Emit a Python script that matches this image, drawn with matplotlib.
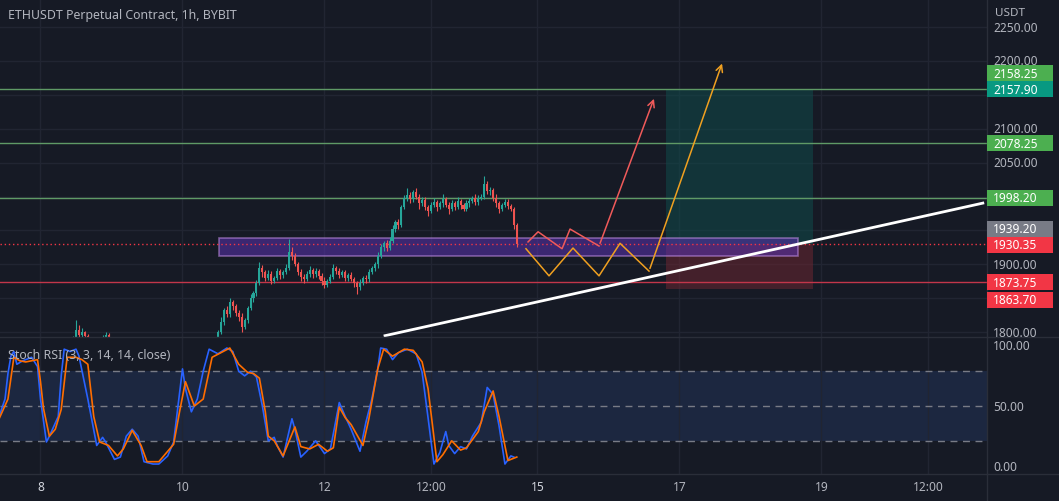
import matplotlib
matplotlib.use("Agg")
import matplotlib.pyplot as plt
from matplotlib.patches import Rectangle

# ---------------- data ----------------
# time unit: hours since day 7, 00:00
candle_start_hour = 84
closes = [1800, 1815, 1832, 1826, 1845, 1838, 1828, 1822, 1808, 1818,
          1835, 1850, 1858, 1872, 1895, 1888, 1880, 1886, 1876, 1880,
          1890, 1884, 1888, 1895, 1918, 1912, 1900, 1888, 1882, 1878,
          1886, 1892, 1885, 1890, 1883, 1876, 1870, 1876, 1882, 1894,
          1890, 1884, 1888, 1880, 1884, 1878, 1872, 1866, 1872, 1880,
          1878, 1888, 1894, 1900, 1912, 1925, 1932, 1924, 1935, 1952,
          1962, 1958, 1985, 1998, 2002, 1996, 2006, 2000, 1990, 1995,
          1985, 1978, 1988, 1992, 1985, 1990, 1996, 1988, 1982, 1990,
          1985, 1993, 1988, 1982, 1990, 1994, 1998, 1992, 1998, 2000,
          2018, 2008, 2010, 1998, 1990, 1982, 1988, 1992, 1986, 1982,
          1958, 1930.35]
first_open = 1792
upper_wick = [3, 8, 4, 6, 5, 3, 4, 5, 6, 3, 4, 6, 3, 5, 8, 4, 3, 6, 4, 3,
              5, 3, 4, 6, 20, 8, 4, 3, 5, 3, 4, 6, 3, 5, 3, 4, 6, 3, 4, 7,
              3, 5, 3, 4, 3, 5, 4, 3, 6, 3, 4, 5, 3, 4, 6, 5, 3, 4, 5, 6,
              4, 5, 3, 4, 10, 5, 4, 6, 3, 4, 5, 3, 4, 6, 3, 4, 7, 3, 4, 5,
              3, 6, 4, 3, 5, 4, 3, 5, 4, 3, 12, 5, 4, 3, 5, 4, 3, 5, 4, 3,
              3, 3]
lower_wick = [4, 3, 5, 4, 3, 6, 4, 5, 8, 3, 4, 3, 5, 4, 3, 6, 4, 3, 5, 4,
              3, 5, 4, 3, 4, 5, 3, 4, 6, 5, 3, 4, 5, 3, 4, 6, 5, 3, 4, 3,
              5, 4, 3, 5, 4, 3, 6, 10, 4, 3, 5, 4, 3, 4, 5, 3, 6, 4, 3, 4,
              5, 6, 3, 4, 5, 6, 4, 3, 8, 4, 5, 7, 3, 4, 6, 3, 5, 4, 8, 3,
              5, 4, 6, 3, 4, 5, 3, 4, 5, 3, 4, 5, 6, 4, 5, 6, 3, 4, 5, 4,
              6, 5]

# a few older candles that peek above the pane bottom
early_hours = [35, 36, 37, 38, 39, 40, 41, 42, 43, 44, 45, 46, 47]
early_open = [1785, 1792, 1803, 1796, 1800, 1794, 1788, 1782, 1778, 1776, 1782, 1793, 1796]
early_high = [1795, 1818, 1810, 1806, 1802, 1797, 1790, 1786, 1782, 1785, 1796, 1800, 1798]
early_low = [1780, 1790, 1792, 1793, 1788, 1782, 1778, 1774, 1772, 1774, 1780, 1790, 1786]
early_close = [1792, 1803, 1796, 1800, 1794, 1788, 1782, 1778, 1776, 1782, 1793, 1796, 1791]

# Stoch RSI %K (blue) and %D (orange)
k_hours = [10, 12, 13, 14, 15, 16, 18, 21, 23, 24, 26, 27, 30, 31, 32, 34, 36, 37, 40, 43, 45,
           46, 49, 51, 53, 55, 57, 59, 62, 64, 67, 69, 72, 73, 75, 77, 79, 81, 84, 87, 89, 91,
           93, 95, 97, 99, 101, 103, 104, 106, 109, 110, 112, 114, 117, 120, 122, 125, 127, 129, 132, 134, 136,
           138, 139, 141, 143, 145, 148, 151, 153, 155, 157, 159, 161, 162, 164, 166, 168, 170, 173, 175, 177,
           179, 181, 183, 184]
k_vals = [41, 56, 78, 93, 97, 86, 89, 92, 84, 56, 19, 24, 41, 76, 99, 97, 99, 93, 56, 16, 23,
          19, 4, 6, 24, 30, 24, 2, 0, 0, 7, 19, 82, 65, 45, 56, 80, 99, 95, 100, 97, 80,
          76, 80, 75, 50, 20, 23, 16, 6, 39, 30, 6, 11, 20, 9, 13, 53, 41, 30, 11, 36, 56,
          82, 100, 99, 90, 96, 99, 95, 79, 40, 0, 10, 28, 16, 9, 15, 13, 24, 36, 66, 60,
          33, 0, 7, 6]
d_hours = [10, 13, 15, 17, 19, 23, 24, 25, 27, 29, 31, 33, 36, 38, 40, 42, 44, 47, 50, 52, 55, 58, 60,
           64, 69, 71, 73, 76, 79, 82, 88, 91, 94, 96, 98, 100, 101, 103, 106, 110, 112, 115, 118, 121, 123,
           125, 127, 129, 133, 135, 138, 140, 143, 147, 150, 153, 155, 158, 160, 163, 166, 168, 172, 174, 177,
           179, 182, 185]
d_vals = [39, 56, 92, 89, 88, 90, 71, 48, 24, 30, 47, 92, 92, 90, 86, 41, 19, 16, 7, 13, 29, 16, 2,
          2, 17, 45, 71, 50, 56, 92, 100, 86, 79, 78, 74, 45, 24, 20, 7, 32, 15, 13, 17, 11, 14,
          49, 40, 34, 16, 39, 82, 99, 93, 99, 98, 88, 65, 2, 8, 20, 12, 14, 28, 45, 63,
          41, 3, 6]

# horizontal levels
green_levels = [2158.25, 2078.25, 1998.20]
red_level = 1873.75
last_price = 1930.35
zone_top, zone_bottom = 1939.20, 1912.2
zone_start, zone_end = 84.5, 280
pos_start, pos_end = 235.5, 285
pos_entry, pos_target, pos_stop = 1930.35, 2157.90, 1863.70
trend_hours = [140, 343]
trend_prices = [1794.3, 1990.7]
red_path_h = [188.8, 192.2, 200.3, 203.0, 212.8, 231.7]
red_path_p = [1933, 1948, 1923, 1952, 1927, 2148]
orange_path_h = [188.1, 195.9, 204.0, 212.8, 219.9, 229.7, 254.7]
orange_path_p = [1923, 1883, 1924, 1883, 1931, 1890, 2200]

price_ticks = [1800, 1850, 1900, 1950, 2000, 2050, 2100, 2150, 2200, 2250]
price_tick_labels = [1800, 1900, 2050, 2100, 2200, 2250]
tags = [(2158.25, '#4caf50', -16), (2157.90, '#089981', 0), (2078.25, '#4caf50', 0),
        (1998.20, '#4caf50', 0), (1939.20, '#787b86', -9), (1930.35, '#f23645', 1),
        (1873.75, '#f23645', 0), (1863.70, '#f23645', 11)]
time_ticks = [24, 72, 120, 156, 192, 240, 288, 324]
time_labels = ['8', '10', '12', '12:00', '15', '17', '19', '12:00']
bold_labels = ['8', '15']

# ---------------- style ----------------
W, H = 1059, 502
BG = '#161a25'
GRID = '#212532'
TXT = '#b2b5be'
UP, DN = '#26a69a', '#ef5350'
FONT = ['Noto Sans', 'DejaVu Sans']
plt.rcParams['font.family'] = FONT

fig = plt.figure(figsize=(W / 100, H / 100), dpi=100)
fig.patch.set_facecolor(BG)

PANE_R, MAIN_BOT, ST_BOT = 987, 338, 475
ax = fig.add_axes([0, 1 - MAIN_BOT / H, PANE_R / W, MAIN_BOT / H])
axs = fig.add_axes([0, 1 - ST_BOT / H, PANE_R / W, (ST_BOT - MAIN_BOT) / H])
for a in (ax, axs):
    a.set_facecolor(BG)
    for s in a.spines.values():
        s.set_visible(False)
    a.set_xticks([])
    a.set_yticks([])
    a.set_xlim(10.31, 343.95)

ax.set_ylim(1792.8, 2291.3)
axs.set_ylim(-8.6, 109.5)

# grid
for t in time_ticks:
    ax.axvline(t, color=GRID, lw=1, zorder=0)
for p in price_ticks:
    ax.axhline(p, color=GRID, lw=1, zorder=0)

# position tool
ax.add_patch(Rectangle((pos_start, pos_entry), pos_end - pos_start, pos_target - pos_entry,
                       facecolor='#0f4b4a', alpha=0.55, lw=0, zorder=1))
ax.add_patch(Rectangle((pos_start, pos_stop), pos_end - pos_start, pos_entry - pos_stop,
                       facecolor='#6b2631', alpha=0.55, lw=0, zorder=1))

# zone box
ax.add_patch(Rectangle((zone_start, zone_bottom), zone_end - zone_start, zone_top - zone_bottom,
                       facecolor='#5b33b0', alpha=0.55, edgecolor='#c38fe6', lw=1.2, zorder=2))

# horizontal levels
for lv in green_levels:
    ax.axhline(lv, color='#5f9a66', lw=1, zorder=3)
ax.axhline(red_level, color='#c2364a', lw=1, zorder=3)
ax.axhline(last_price, color='#f23645', lw=1, ls=(0, (1, 2)), zorder=3)

# candles
opens = [first_open] + closes[:-1]
hours = [candle_start_hour + i for i in range(len(closes))]
highs = [max(o, c) + u for o, c, u in zip(opens, closes, upper_wick)]
lows = [min(o, c) - d for o, c, d in zip(opens, closes, lower_wick)]
all_h = early_hours + hours
all_o = early_open + opens
all_c = early_close + closes
all_hi = early_high + highs
all_lo = early_low + lows
for h, o, c, hi, lo in zip(all_h, all_o, all_c, all_hi, all_lo):
    col = UP if c >= o else DN
    ax.vlines(h, lo, hi, color=col, lw=0.8, zorder=4)
    ax.bar(h, max(abs(c - o), 0.8), bottom=min(o, c), width=0.7, color=col, lw=0, zorder=5)

# trend line
ax.plot(trend_hours, trend_prices, color='white', lw=2, zorder=6, solid_capstyle='butt')

# projection paths
ax.plot(red_path_h[:-1], red_path_p[:-1], color='#f05a5a', lw=1.1, zorder=6)
ax.annotate('', xy=(red_path_h[-1], red_path_p[-1]), xytext=(red_path_h[-2], red_path_p[-2]),
            arrowprops=dict(arrowstyle='->', color='#f05a5a', lw=1.1, mutation_scale=12), zorder=6)
ax.plot(orange_path_h[:-1], orange_path_p[:-1], color='#f0a020', lw=1.1, zorder=6)
ax.annotate('', xy=(orange_path_h[-1], orange_path_p[-1]), xytext=(orange_path_h[-2], orange_path_p[-2]),
            arrowprops=dict(arrowstyle='->', color='#f0a020', lw=1.1, mutation_scale=12), zorder=6)

# stoch pane
axs.axhspan(20, 80, color='#1c2740', zorder=0, lw=0)
for t in time_ticks:
    axs.axvline(t, color=GRID, lw=1, zorder=0.5)
for lvl in (80, 50, 20):
    axs.axhline(lvl, color='#787b86', lw=1, ls=(0, (5, 4)), zorder=1)
axs.plot(k_hours, k_vals, color='#2962ff', lw=1.2, zorder=3, solid_joinstyle='round')
axs.plot(d_hours, d_vals, color='#ff6d00', lw=1.2, zorder=4, solid_joinstyle='round')

# overlay in pixel coordinates for axes / labels
ov = fig.add_axes([0, 0, 1, 1], zorder=10)
ov.set_xlim(0, W)
ov.set_ylim(H, 0)
ov.axis('off')
ov.patch.set_alpha(0)

ov.plot([PANE_R, PANE_R], [0, H], color='#2a2e39', lw=1)
ov.plot([0, W], [MAIN_BOT, MAIN_BOT], color='#2a2e39', lw=1)
ov.plot([0, W], [ST_BOT, ST_BOT], color='#2a2e39', lw=1)

fig.canvas.draw()


def price_px(p):
    return H - ax.transData.transform((100, p))[1]


def stoch_px(v):
    return H - axs.transData.transform((100, v))[1]


def hour_px(hh):
    return ax.transData.transform((hh, 2000))[0]


ov.text(8, 16, 'ETHUSDT Perpetual Contract, 1h, BYBIT', color=TXT, fontsize=8.9,
        va='center', ha='left')
ov.text(8, 356, 'Stoch RSI (3, 3, 14, 14, close)', color=TXT, fontsize=8.9,
        va='center', ha='left')
ov.text(995, 13, 'USDT', color=TXT, fontsize=8.4, va='center', ha='left')

for p in price_tick_labels:
    y = price_px(p)
    ov.text(993, y, f'{p:.2f}', color=TXT, fontsize=8.6, va='center', ha='left')
for v, y in ((100, stoch_px(100) - 3), (50, stoch_px(50)), (0, stoch_px(0) + 2)):
    ov.text(993, y, f'{v:.2f}', color=TXT, fontsize=8.6, va='center', ha='left')

for price, col, shift in tags:
    y = price_px(price) + shift
    ov.add_patch(Rectangle((987, y - 8), 66, 16, facecolor=col, lw=0, zorder=11))
    ov.text(993, y, f'{price:.2f}', color='white', fontsize=8.6, va='center', ha='left', zorder=12)

for t, lab in zip(time_ticks, time_labels):
    ov.text(hour_px(t), 488, lab, color='#d1d4dc' if lab in bold_labels else TXT,
            fontsize=8.6, va='center', ha='center',
            fontweight='bold' if lab in bold_labels else 'normal')

fig.savefig('out.png', dpi=100, facecolor=BG)
